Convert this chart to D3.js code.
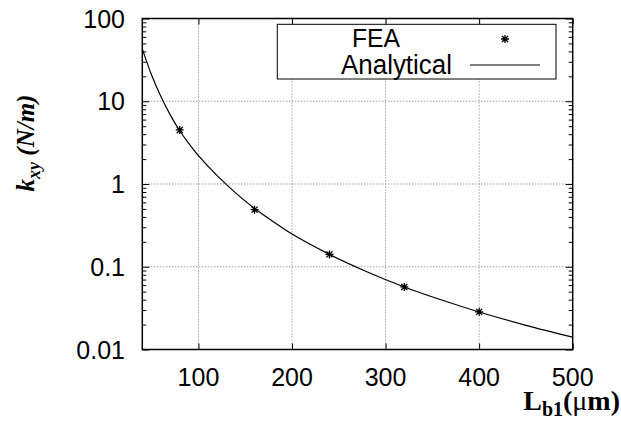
<!DOCTYPE html>
<html><head><meta charset="utf-8">
<script src="https://cdn.jsdelivr.net/npm/d3@7"></script>
<style>body{margin:0;background:#fff}</style>
</head><body><svg id="c" width="621" height="426"></svg>
<script>
// ---- data ----
const xTicks = [100, 200, 300, 400, 500];
const xTickLabels = ["100", "200", "300", "400", "500"];
const yTicks = [0.01, 0.1, 1, 10, 100];
const yTickLabels = ["0.01", "0.1", "1", "10", "100"];
const feaL = [80, 160, 240, 320, 400];
const feaK = [4.5, 0.49, 0.141, 0.057, 0.0285];
const anaL = [40, 50, 60, 70, 80, 90, 100, 120, 140, 160, 180, 200, 240, 280, 320, 360, 400, 450, 500];
const anaK = [43, 20.6, 11.3, 6.8, 4.4, 3.05, 2.2, 1.26, 0.775, 0.505, 0.35, 0.248, 0.141, 0.087, 0.057, 0.0396, 0.0284, 0.0196, 0.0141];
const seriesNames = ["FEA", "Analytical"];

// ---- layout ----
const svg = d3.select("#c");
const L = 142.3, R = 572.7, T = 18.5, B = 349.5;
const x = d3.scaleLinear().domain([40, 500]).range([L, R]);
const y = d3.scaleLog().domain([0.01, 100]).range([B, T]);
const tickFont = "'Liberation Sans', Arial, Helvetica, sans-serif";

// grid
const grid = svg.append("g").attr("stroke", "#777").attr("stroke-width", 1).attr("stroke-dasharray", "1,2");
grid.selectAll(".gx").data(xTicks.filter(d => d < 500)).enter().append("line")
  .attr("x1", d => x(d)).attr("x2", d => x(d)).attr("y1", T).attr("y2", B);
grid.selectAll(".gy").data(yTicks.filter(d => d > 0.01 && d < 100)).enter().append("line")
  .attr("x1", L).attr("x2", R).attr("y1", d => y(d)).attr("y2", d => y(d));

// axes with inward ticks
const minor = [];
for (let e = -2; e < 2; e++) for (let m = 2; m <= 9; m++) minor.push(m * Math.pow(10, e));
const axG = svg.append("g");
axG.append("g").attr("transform", `translate(${L},0)`)
  .call(d3.axisLeft(y).tickValues(yTicks).tickSize(-7).tickFormat(""));
axG.append("g").attr("transform", `translate(${L},0)`)
  .call(d3.axisLeft(y).tickValues(minor).tickSize(-4).tickFormat(""));
axG.append("g").attr("transform", `translate(${R},0)`)
  .call(d3.axisRight(y).tickValues(yTicks).tickSize(-7).tickFormat(""));
axG.append("g").attr("transform", `translate(${R},0)`)
  .call(d3.axisRight(y).tickValues(minor).tickSize(-4).tickFormat(""));
axG.append("g").attr("transform", `translate(0,${B})`)
  .call(d3.axisBottom(x).tickValues(xTicks).tickSize(-6).tickFormat(""));
axG.append("g").attr("transform", `translate(0,${T})`)
  .call(d3.axisTop(x).tickValues(xTicks).tickSize(-6).tickFormat(""));
axG.selectAll(".domain").remove();
axG.selectAll("line").attr("stroke", "#000").attr("stroke-width", 1);

// tick labels
svg.append("g").selectAll("text").data(yTicks).enter().append("text")
  .attr("x", 125).attr("y", d => y(d) + 9)
  .attr("text-anchor", "end").attr("font-family", tickFont).attr("font-size", 25)
  .text((d, i) => yTickLabels[i]);
svg.append("g").selectAll("text").data(xTicks).enter().append("text")
  .attr("x", d => x(d)).attr("y", 386)
  .attr("text-anchor", "middle").attr("font-family", tickFont).attr("font-size", 25)
  .text((d, i) => xTickLabels[i]);

// analytical curve
svg.append("clipPath").attr("id", "pc").append("rect")
  .attr("x", L).attr("y", T).attr("width", R - L).attr("height", B - T);
const line = d3.line().x(d => x(d[0])).y(d => y(d[1])).curve(d3.curveCatmullRom);
svg.append("path").datum(anaL.map((l, i) => [l, anaK[i]]))
  .attr("d", line).attr("fill", "none").attr("stroke", "#000").attr("stroke-width", 1.2)
  .attr("clip-path", "url(#pc)");

// star marker
function star(g, cx, cy, s) {
  const p = `M${cx - s},${cy}L${cx + s},${cy}M${cx},${cy - s}L${cx},${cy + s}` +
    `M${cx - s * 0.75},${cy - s * 0.75}L${cx + s * 0.75},${cy + s * 0.75}` +
    `M${cx - s * 0.75},${cy + s * 0.75}L${cx + s * 0.75},${cy - s * 0.75}`;
  g.append("path").attr("d", p).attr("stroke", "#000").attr("stroke-width", 1.3).attr("fill", "none");
}
const pts = svg.append("g");
feaL.forEach((l, i) => star(pts, x(l), y(feaK[i]), 4));

// frame
svg.append("rect").attr("x", L).attr("y", T).attr("width", R - L).attr("height", B - T)
  .attr("fill", "none").attr("stroke", "#000").attr("stroke-width", 1.5);

// legend
const lg = svg.append("g");
lg.append("rect").attr("x", 277.3).attr("y", 24.3).attr("width", 278.7).attr("height", 54.7)
  .attr("fill", "#fff").attr("stroke", "#000").attr("stroke-width", 1);
lg.append("text").attr("x", 352).attr("y", 46.7).attr("font-family", tickFont).attr("font-size", 26)
  .attr("textLength", 48).attr("lengthAdjust", "spacingAndGlyphs").text(seriesNames[0]);
lg.append("text").attr("x", 341).attr("y", 73.5).attr("font-family", tickFont).attr("font-size", 27)
  .attr("textLength", 111).attr("lengthAdjust", "spacingAndGlyphs").text(seriesNames[1]);
star(lg, 505, 39, 4);
lg.append("line").attr("x1", 470).attr("x2", 540).attr("y1", 65).attr("y2", 65)
  .attr("stroke", "#000").attr("stroke-width", 1.2);

// axis titles
const serif = "'Liberation Serif', 'Times New Roman', Times, serif";
const yl = svg.append("text").attr("transform", "translate(34,143) rotate(-90)")
  .attr("text-anchor", "middle").attr("font-family", serif).attr("font-weight", "bold")
  .attr("font-style", "italic").attr("font-size", 25);
yl.append("tspan").text("k");
yl.append("tspan").attr("font-size", 18).attr("dy", 6).text("xy");
yl.append("tspan").attr("dy", -6).text(" (N/m)");

const xl = svg.append("text").attr("x", 620).attr("y", 410)
  .attr("text-anchor", "end").attr("font-family", serif).attr("font-weight", "bold").attr("font-size", 28);
xl.append("tspan").text("L");
xl.append("tspan").attr("font-size", 20).attr("dy", 6).text("b1");
xl.append("tspan").attr("dy", -6).text("(");
xl.append("tspan").attr("font-weight", "normal").text("μ");
xl.append("tspan").text("m)");
</script>
</body></html>
